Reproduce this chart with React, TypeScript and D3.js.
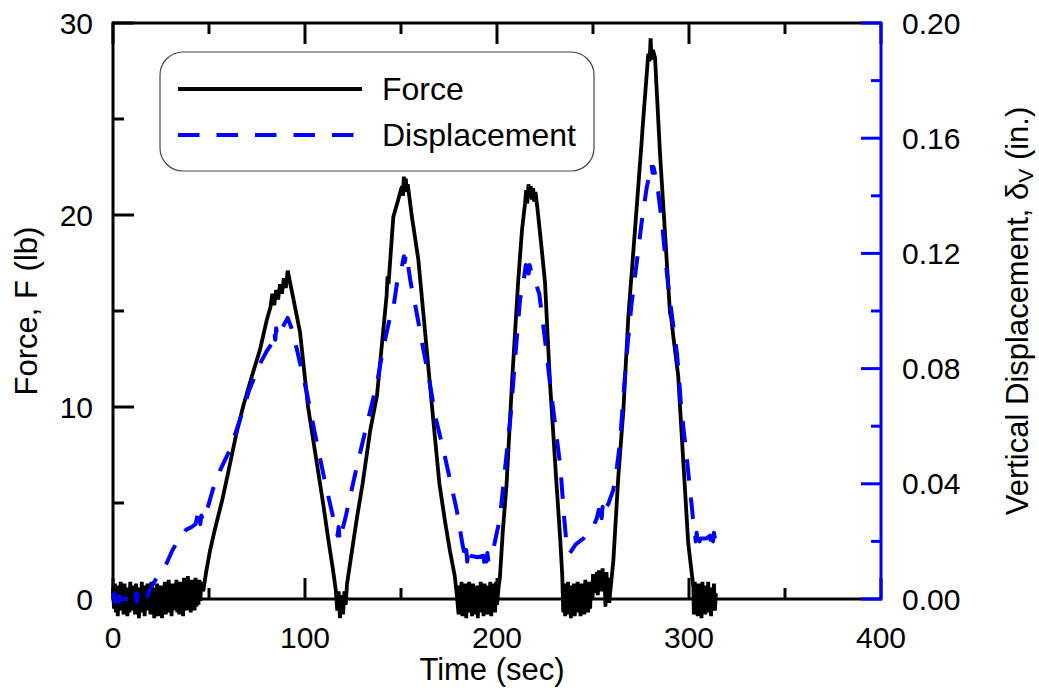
import React from "react";
import * as d3 from "d3";

// ---- DATA ----
// Force, F (lb): smooth/peak parts as [t (sec), F (lb)]
const forceRamps: [number, number][] = [
  [46.5, 0.6], [47, 0.4], [48.5, 1.4], [50.5, 2.5], [53, 3.6], [57, 5.2], [60, 6.6], [64, 8.5], [67.7, 10.0],
  [72, 11.5], [76.6, 13.0], [80, 14.5], [82, 15.2], [83, 15.9], [84, 15.3], [85, 16.1], [86, 15.6], [87, 16.4],
  [88, 15.9], [89, 16.7], [90, 16.2], [91, 17.1], [92, 16.6], [94, 15.6], [97.4, 13.9], [101.6, 10.0],
  [105.5, 7.5], [109.4, 5.0], [112, 3.2], [114.6, 1.5], [116, 0.5], [116.8, -0.6], [117.5, 0.4], [118.2, -1.0],
  [119, 0.2], [119.8, -0.8], [120.5, 0.4], [121.2, -0.3], [121.9, 0.8],
  [124, 2.2], [127, 4.2], [130, 6.0], [134, 8.8], [137.5, 10.6], [140, 13.2], [142.5, 15.8], [143, 16.8],
  [143.5, 16.4], [146, 19.9], [148, 20.6], [150.5, 21.5], [151, 21.0], [151.5, 22.0], [152, 21.3],
  [152.5, 21.9], [153, 21.2], [153.5, 21.6], [155.7, 19.9], [159, 17.7], [162, 14.5], [165, 11.25],
  [167.5, 8.6], [170, 6.0], [173, 4.0], [175.5, 2.5], [178, 1.2], [179, 0.3],
  [200.8, 0.6], [201.5, 1.1], [203, 3.5], [205, 6.0], [207.8, 11.25], [211, 16.5], [213, 19.2], [214.6, 20.6],
  [215.2, 21.3], [215.8, 20.6], [216.4, 21.6], [217, 20.9], [217.6, 21.5], [218.2, 20.8], [218.8, 21.4],
  [219.4, 20.7], [220, 21.2], [221, 20.4], [223, 18.5], [225, 16.5], [227.6, 11.25], [231, 6.0], [233, 3.0],
  [234, 1.2],
  [258.9, 0.3], [260.6, 2.0], [263.2, 6.4], [265.8, 9.8], [268.4, 14.7], [272, 19.4], [275.4, 23.9],
  [275.8, 24.5], [278.8, 28.4], [279.5, 28.0], [280, 29.2], [280.5, 28.1], [281.2, 28.6], [282.3, 28.2],
  [284.9, 23.2], [290.1, 14.9], [290.8, 14.6], [291.8, 13.7], [294.4, 11.6], [297, 7.2], [299.6, 2.9],
  [302.3, 0.6],
];

// Force, F (lb): noisy rest periods, sampled every 0.5 sec from the given start time
const restStart1 = 0;
const restNoise1 = [
  0.6, -0.5, 0.8, -0.7, 0.3, -0.9, 0.7, -0.4, 0.9, -0.6,
  0.5, -0.8, 0.8, -0.3, 0.6, -0.9, 0.4, -0.7, 0.9, -0.5,
  0.7, -0.6, 0.3, -0.8, 0.8, -0.4, 0.6, -1.0, 0.5, -0.7,
  0.9, -0.5, 0.4, -0.9, 0.7, -0.6, 0.8, -0.3, 0.5, -0.8,
  0.9, -0.7, 0.4, -1.0, 0.6, -0.5, 0.8, -0.9, 0.3, -0.6,
  0.7, -1.0, 0.5, -0.4, 0.9, -0.8, 0.6, -0.7, 1.0, -0.5,
  0.4, -0.9, 0.8, -0.6, 0.7, -0.3, 1.0, -0.7, 0.5, -0.8,
  0.9, -0.4, 0.6, -0.9, 1.1, -0.5, 0.7, -0.6, 1.2, -0.3,
  0.8, -0.7, 1.0, -0.2, 0.9, -0.6, 1.1, -0.4, 0.8, -0.3,
  1.0, -0.1, 0.9,
];
const restStart2 = 180;
const restNoise2 = [
  -0.8, 0.7, -0.5, 0.9, -0.9, 0.4, -0.6, 0.8, -1.0, 0.5,
  -0.7, 0.9, -0.4, 0.6, -0.9, 0.8, -0.6, 0.3, -0.8, 0.7,
  -1.0, 0.6, -0.5, 0.9, -0.7, 0.4, -0.9, 0.8, -0.3, 0.7,
  -0.8, 0.5, -0.6, 0.9, -0.9, 0.6, -0.4, 0.8, -0.7, 0.9,
  -0.3,
];
const restStart3 = 234.5;
const restNoise3 = [
  -0.7, 0.8, -0.9, 0.5, -0.6, 0.9, -0.8, 0.4, -1.0, 0.7,
  -0.5, 0.8, -0.9, 0.6, -0.4, 0.9, -0.7, 0.5, -0.9, 0.8,
  -0.6, 0.7, -0.8, 1.0, -0.3, 0.6, -0.7, 0.9, -0.5, 0.8,
  0.1, 1.3, 0.3, 1.2, 0.5, 1.4, 0.2, 1.5, 0.6, 1.3,
  0.4, 1.6, 0.5, 1.2, -0.4, 1.4, 0.3, 1.1, -0.2,
];
const restStart4 = 302.5;
const restNoise4 = [
  -0.8, 0.9, -0.6, 0.7, -0.9, 0.8, -0.4, 0.6, -1.0, 0.9,
  -0.5, 0.7, -0.8, 0.5, -0.6, 0.9, -0.7, 0.4, -0.9, 0.6,
  -0.5, 0.8, -0.6, 0.3,
];
const restStep = 0.5;

// Vertical displacement (in.) vs time (sec): [t, d]
const displacementSeries: [number, number][] = [
  [0, 0.0], [0.5, 0.002], [1, -0.001], [1.5, 0.002], [2, 0.0], [2.5, 0.002], [3, -0.001], [3.5, 0.001],
  [4, 0.0], [6, 0.0], [9, 0.0], [11, 0.001], [11.5, -0.001], [12, 0.002], [12.5, -0.001], [13, 0.002],
  [13.5, 0.0], [14, 0.001], [16, 0.0], [18, 0.001], [19, 0.003], [22, 0.0065], [25, 0.0095], [28, 0.0125],
  [31, 0.017], [35, 0.0215], [38, 0.024], [41, 0.025], [43, 0.026], [44, 0.029], [44.5, 0.025], [45, 0.028],
  [45.5, 0.026], [46, 0.029], [47, 0.027], [49, 0.031], [52, 0.038], [56, 0.045], [61, 0.052], [66, 0.062],
  [71, 0.0726], [76, 0.081], [80, 0.086], [83, 0.089], [84, 0.093], [84.5, 0.09], [85, 0.094], [85.5, 0.091],
  [86, 0.093], [88, 0.094], [91, 0.0976], [93, 0.094], [96, 0.086], [101, 0.0715], [105, 0.058], [110, 0.042],
  [114.6, 0.0285], [116, 0.025], [117, 0.022], [117.5, 0.025], [118, 0.021], [118.5, 0.024], [119, 0.023],
  [121, 0.028], [124, 0.037], [127, 0.046], [132, 0.06], [137.5, 0.075], [141, 0.088], [144, 0.097],
  [146, 0.101], [148, 0.11], [150, 0.114], [151.5, 0.119], [152, 0.117], [152.5, 0.12], [153, 0.119],
  [155, 0.11], [158, 0.1], [161, 0.089], [165, 0.075], [168, 0.063], [172, 0.052], [176, 0.04], [179, 0.031],
  [182, 0.019], [183, 0.016], [183.5, 0.013], [184, 0.017], [184.5, 0.013], [185, 0.016], [185.5, 0.013],
  [186, 0.015], [190, 0.0145], [193, 0.015], [193.5, 0.012], [194, 0.016], [194.5, 0.013], [195, 0.016],
  [195.5, 0.013], [196, 0.015], [198, 0.017], [201.5, 0.028], [204, 0.044], [207, 0.063], [209.5, 0.084],
  [212, 0.104], [214, 0.111], [215, 0.116], [215.5, 0.113], [216, 0.117], [216.5, 0.113], [217, 0.116],
  [218, 0.113], [220, 0.11], [222, 0.106], [225, 0.09], [227.6, 0.075], [230, 0.062], [233, 0.046],
  [235, 0.028], [236.5, 0.017], [238, 0.016], [241, 0.019], [245, 0.021], [250, 0.025], [252, 0.028],
  [253, 0.031], [253.5, 0.027], [254, 0.031], [254.5, 0.028], [255, 0.032], [255.5, 0.029], [256, 0.031],
  [258, 0.033], [260.6, 0.038], [262.5, 0.046], [264, 0.054], [266, 0.072], [267.7, 0.086], [270, 0.102],
  [273, 0.118], [275.5, 0.1316], [278, 0.143], [280, 0.149], [280.5, 0.151], [281, 0.148], [281.5, 0.15],
  [282.5, 0.147], [284, 0.141], [286, 0.13], [288.5, 0.113], [290, 0.104], [292, 0.094], [293.8, 0.085],
  [296, 0.066], [299, 0.048], [301, 0.035], [302, 0.0285], [303, 0.024], [303.5, 0.02], [304, 0.023],
  [304.5, 0.019], [305, 0.022], [305.5, 0.02], [306, 0.021], [309, 0.021], [311, 0.022], [311.5, 0.019],
  [312, 0.023], [312.5, 0.02], [313, 0.023], [313.5, 0.021],
];

const timeTicks = [0, 100, 200, 300, 400];
const timeMinorTicks = [50, 150, 250, 350];
const forceTicks = [0, 10, 20, 30];
const forceMinorTicks = [5, 15, 25];
const dispTicks = [0, 0.04, 0.08, 0.12, 0.16, 0.2];
const dispMinorTicks = [0.02, 0.06, 0.1, 0.14, 0.18];

const legendLabels = ["Force", "Displacement"];

// ---- LAYOUT ----
const W = 1039;
const H = 692;
const L = 113;
const R = 881;
const T = 23;
const B = 599;
const BLUE = "#0000FF";
const FONT = "'Liberation Sans', Arial, Helvetica, sans-serif";
const MAJ = 21;
const MIN = 11;

function restPoints(start: number, vals: number[]): [number, number][] {
  return vals.map((v, i) => [start + i * restStep, v] as [number, number]);
}

const forceSeries: [number, number][] = [
  ...restPoints(restStart1, restNoise1),
  ...restPoints(restStart2, restNoise2),
  ...restPoints(restStart3, restNoise3),
  ...restPoints(restStart4, restNoise4),
  ...forceRamps,
].sort((a, b) => a[0] - b[0]);

export default function App() {
  const x = d3.scaleLinear().domain([0, 400]).range([L, R]);
  const yF = d3.scaleLinear().domain([0, 30]).range([B, T]);
  const yD = d3.scaleLinear().domain([0, 0.2]).range([B, T]);

  const forceLine = d3
    .line<[number, number]>()
    .x((d) => x(d[0]))
    .y((d) => yF(d[1]));
  const dispLine = d3
    .line<[number, number]>()
    .x((d) => x(d[0]))
    .y((d) => yD(d[1]));

  return (
    <svg
      width={W}
      height={H}
      style={{ position: "absolute", left: 0, top: 0, background: "#fff" }}
      fontFamily={FONT}
    >
      <rect x={0} y={0} width={W} height={H} fill="#fff" />

      {/* frame */}
      <line x1={L} y1={B} x2={R} y2={B} stroke="#000" strokeWidth={3} />
      <line x1={L} y1={T} x2={R} y2={T} stroke="#000" strokeWidth={3} />
      <line x1={L} y1={T - 1.5} x2={L} y2={B + 1.5} stroke="#000" strokeWidth={3} />

      {/* bottom & top ticks */}
      {timeTicks.map((t) => (
        <g key={"xt" + t}>
          <line x1={x(t)} x2={x(t)} y1={B} y2={B - MAJ} stroke="#000" strokeWidth={3} />
          <line x1={x(t)} x2={x(t)} y1={T} y2={T + MAJ} stroke="#000" strokeWidth={3} />
          <text x={x(t)} y={648} textAnchor="middle" fontSize={30} fill="#000">
            {t}
          </text>
        </g>
      ))}
      {timeMinorTicks.map((t) => (
        <g key={"xm" + t}>
          <line x1={x(t)} x2={x(t)} y1={B} y2={B - MIN} stroke="#000" strokeWidth={3} />
          <line x1={x(t)} x2={x(t)} y1={T} y2={T + MIN} stroke="#000" strokeWidth={3} />
        </g>
      ))}

      {/* left axis ticks */}
      {forceTicks.map((v) => (
        <g key={"ft" + v}>
          <line x1={L} x2={L + MAJ} y1={yF(v)} y2={yF(v)} stroke="#000" strokeWidth={3} />
          <text x={93} y={yF(v) + 10.5} textAnchor="end" fontSize={30} fill="#000">
            {v}
          </text>
        </g>
      ))}
      {forceMinorTicks.map((v) => (
        <line key={"fm" + v} x1={L} x2={L + MIN} y1={yF(v)} y2={yF(v)} stroke="#000" strokeWidth={3} />
      ))}

      {/* right axis (blue) */}
      <line x1={R} y1={T - 1.5} x2={R} y2={B + 1.5} stroke={BLUE} strokeWidth={3} />
      {dispTicks.map((v) => (
        <g key={"dt" + v}>
          <line x1={R} x2={R - 20} y1={yD(v)} y2={yD(v)} stroke={BLUE} strokeWidth={3} />
          <text x={902} y={yD(v) + 10.5} textAnchor="start" fontSize={30} fill="#000">
            {v.toFixed(2)}
          </text>
        </g>
      ))}
      {dispMinorTicks.map((v) => (
        <line key={"dm" + v} x1={R} x2={R - 10} y1={yD(v)} y2={yD(v)} stroke={BLUE} strokeWidth={3} />
      ))}

      {/* axis titles */}
      <text x={492} y={680} textAnchor="middle" fontSize={31} fill="#000">
        Time (sec)
      </text>
      <text
        transform={`translate(37, ${(T + B) / 2}) rotate(-90)`}
        textAnchor="middle"
        fontSize={31}
        fill="#000"
      >
        Force, F (lb)
      </text>
      <text
        transform={`translate(1028, ${(T + B) / 2}) rotate(-90)`}
        textAnchor="middle"
        fontSize={31}
        fill="#000"
      >
        Vertical Displacement, δ
        <tspan fontSize={21} dy={5}>
          V
        </tspan>
        <tspan dy={-5}> (in.)</tspan>
      </text>

      {/* data */}
      <path
        d={forceLine(forceSeries) || ""}
        fill="none"
        stroke="#000"
        strokeWidth={3.8}
        strokeLinejoin="miter"
      />
      <path
        d={dispLine(displacementSeries) || ""}
        fill="none"
        stroke={BLUE}
        strokeWidth={4}
        strokeDasharray="21.5 17"
        strokeLinejoin="round"
      />

      {/* legend */}
      <rect x={160} y={52} width={434} height={119} rx={23} ry={23} fill="#fff" stroke="#444" strokeWidth={1.2} />
      <line x1={178} x2={362} y1={89} y2={89} stroke="#000" strokeWidth={3.8} />
      <line x1={178} x2={355} y1={135} y2={135} stroke={BLUE} strokeWidth={4} strokeDasharray="21.5 17" />
      <text x={382} y={100} fontSize={32} fill="#000">
        {legendLabels[0]}
      </text>
      <text x={382} y={146} fontSize={32} fill="#000">
        {legendLabels[1]}
      </text>
    </svg>
  );
}
